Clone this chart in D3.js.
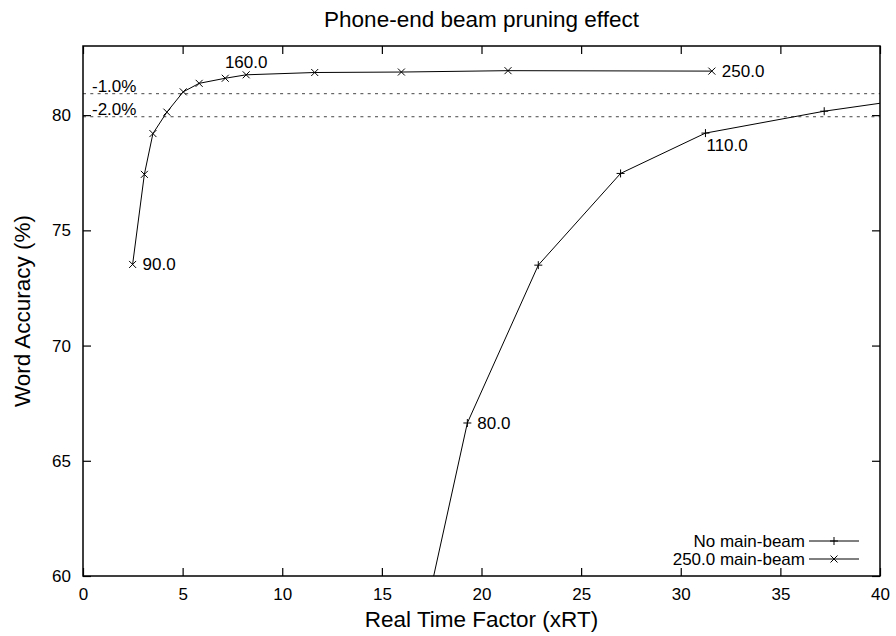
<!DOCTYPE html>
<html>
<head>
<meta charset="utf-8">
<script src="https://cdn.jsdelivr.net/npm/d3@7"></script>
<style>
  body { margin: 0; background: #fff; }
  svg { font-family: "Liberation Sans", Arial, Helvetica, sans-serif; }
  .tick text { font-size: 17px; fill: #000; }
  .tick line { stroke: #000; stroke-width: 1.2; }
</style>
</head>
<body>
<div id="chart"></div>
<script>
// Real time factor (x) vs word accuracy (y).
// First and last "No main-beam" points sit outside the plot and are clipped.
const noneX = [16.2, 19.29, 22.85, 26.98, 31.24, 37.2, 48.0];
const noneY = [54.5, 66.64, 73.49, 77.47, 79.22, 80.17, 81.5];
const mainX = [2.49, 3.08, 3.51, 4.21, 5.03, 5.83, 7.14, 8.19, 11.63, 15.98, 21.33, 31.56];
const mainY = [73.52, 77.43, 79.2, 80.13, 81.01, 81.38, 81.6, 81.75, 81.85, 81.87, 81.93, 81.91];

// beam values written next to some points: [point index, text]
const noneLabels = [[1, "80.0"], [4, "110.0"]];
const mainLabels = [[0, "90.0"], [7, "160.0"], [11, "250.0"]];

// accuracy drops below the best result
const drops = [1, 2];
const dropLabels = ["-1.0%", "-2.0%"];

const xTicks = [0, 5, 10, 15, 20, 25, 30, 35, 40];
const yTicks = [60, 65, 70, 75, 80];
const seriesNames = ["No main-beam", "250.0 main-beam"];

const width = 896, height = 636;
const margin = { top: 46, right: 16, bottom: 60, left: 83 };

const svg = d3.select("#chart").append("svg")
    .attr("width", width)
    .attr("height", height);

const x = d3.scaleLinear().domain([0, 40]).range([margin.left, width - margin.right]);
const y = d3.scaleLinear().domain([60, 83]).range([height - margin.bottom, margin.top]);

const tick = 8;

// axes, ticks drawn inside the frame like gnuplot
svg.append("g")
    .attr("transform", `translate(0,${y.range()[0]})`)
    .call(d3.axisBottom(x).tickValues(xTicks).tickSize(-tick).tickPadding(12))
    .call(g => g.select(".domain").remove());

svg.append("g")
    .attr("transform", `translate(0,${y.range()[1]})`)
    .call(d3.axisTop(x).tickValues(xTicks).tickSize(-tick).tickFormat(""))
    .call(g => g.select(".domain").remove());

svg.append("g")
    .attr("transform", `translate(${x.range()[0]},0)`)
    .call(d3.axisLeft(y).tickValues(yTicks).tickSize(-tick).tickPadding(12))
    .call(g => g.select(".domain").remove());

svg.append("g")
    .attr("transform", `translate(${x.range()[1]},0)`)
    .call(d3.axisRight(y).tickValues(yTicks).tickSize(-tick).tickFormat(""))
    .call(g => g.select(".domain").remove());

svg.append("defs").append("clipPath")
    .attr("id", "plot")
    .append("rect")
    .attr("x", x.range()[0])
    .attr("y", y.range()[1])
    .attr("width", x.range()[1] - x.range()[0])
    .attr("height", y.range()[0] - y.range()[1]);

const plot = svg.append("g").attr("clip-path", "url(#plot)");

// threshold lines
const best = d3.max(mainY);
drops.forEach((d, i) => {
    plot.append("line")
        .attr("x1", x.range()[0])
        .attr("x2", x.range()[1])
        .attr("y1", y(best - d))
        .attr("y2", y(best - d))
        .attr("stroke", "#444")
        .attr("stroke-width", 1)
        .attr("stroke-dasharray", "3,4.3");
    svg.append("text")
        .attr("x", x.range()[0] + 9)
        .attr("y", y(best - d) - 2)
        .attr("font-size", 17)
        .text(dropLabels[i]);
});

const line = d3.line().x(d => x(d[0])).y(d => y(d[1]));
const nonePts = noneX.map((v, i) => [v, noneY[i]]);
const mainPts = mainX.map((v, i) => [v, mainY[i]]);

function plus(g, px, py, r) {
    g.append("path")
        .attr("d", `M${px - r},${py}H${px + r}M${px},${py - r}V${py + r}`)
        .attr("stroke", "#000").attr("stroke-width", 1).attr("fill", "none");
}
function cross(g, px, py, r) {
    g.append("path")
        .attr("d", `M${px - r},${py - r}L${px + r},${py + r}M${px - r},${py + r}L${px + r},${py - r}`)
        .attr("stroke", "#000").attr("stroke-width", 1).attr("fill", "none");
}

plot.append("path")
    .datum(nonePts)
    .attr("d", line)
    .attr("fill", "none")
    .attr("stroke", "#000")
    .attr("stroke-width", 1);

plot.append("path")
    .datum(mainPts)
    .attr("d", line)
    .attr("fill", "none")
    .attr("stroke", "#000")
    .attr("stroke-width", 1);

nonePts.forEach(p => plus(plot, x(p[0]), y(p[1]), 4));
mainPts.forEach(p => cross(plot, x(p[0]), y(p[1]), 3.5));

// point labels
const placement = {
    "80.0": "right", "110.0": "below", "90.0": "right", "160.0": "above", "250.0": "right"
};
function pointLabel(pts, [idx, txt]) {
    const px = x(pts[idx][0]), py = y(pts[idx][1]);
    const t = svg.append("text").attr("font-size", 17).text(txt);
    const where = placement[txt];
    if (where === "right") {
        t.attr("x", px + 10).attr("y", py).attr("dy", "0.35em");
    } else if (where === "below") {
        t.attr("x", px + 1).attr("y", py + 18);
    } else {
        t.attr("x", px).attr("y", py - 7).attr("text-anchor", "middle");
    }
}
noneLabels.forEach(l => pointLabel(nonePts, l));
mainLabels.forEach(l => pointLabel(mainPts, l));

// frame
svg.append("rect")
    .attr("x", x.range()[0])
    .attr("y", y.range()[1])
    .attr("width", x.range()[1] - x.range()[0])
    .attr("height", y.range()[0] - y.range()[1])
    .attr("fill", "none")
    .attr("stroke", "#000")
    .attr("stroke-width", 1.5);

// legend
const legendX = 805, legendY = 541, legendStep = 18;
seriesNames.forEach((name, i) => {
    const ly = legendY + i * legendStep;
    svg.append("text")
        .attr("x", legendX)
        .attr("y", ly)
        .attr("dy", "0.35em")
        .attr("text-anchor", "end")
        .attr("font-size", 17)
        .text(name);
    svg.append("line")
        .attr("x1", legendX + 4).attr("x2", legendX + 54)
        .attr("y1", ly).attr("y2", ly)
        .attr("stroke", "#000").attr("stroke-width", 1);
    if (i === 0) plus(svg, legendX + 29, ly, 4);
    else cross(svg, legendX + 29, ly, 3.5);
});

// titles
svg.append("text")
    .attr("x", (x.range()[0] + x.range()[1]) / 2)
    .attr("y", 27)
    .attr("text-anchor", "middle")
    .attr("font-size", 22.5)
    .text("Phone-end beam pruning effect");

svg.append("text")
    .attr("x", (x.range()[0] + x.range()[1]) / 2)
    .attr("y", 627)
    .attr("text-anchor", "middle")
    .attr("font-size", 22.5)
    .text("Real Time Factor (xRT)");

svg.append("text")
    .attr("transform", `translate(30,${(y.range()[0] + y.range()[1]) / 2}) rotate(-90)`)
    .attr("text-anchor", "middle")
    .attr("font-size", 22.5)
    .text("Word Accuracy (%)");
</script>
</body>
</html>
